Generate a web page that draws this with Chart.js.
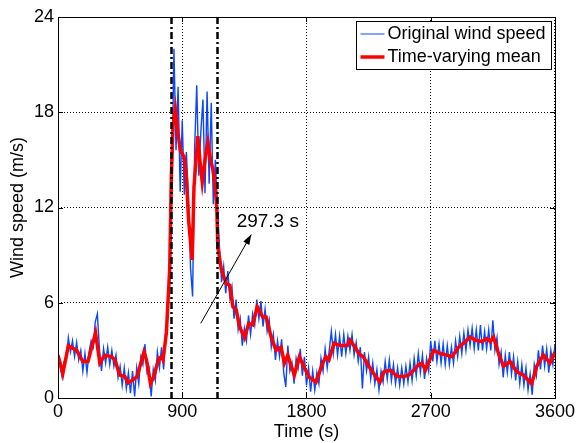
<!DOCTYPE html>
<html>
<head>
<meta charset="utf-8">
<script src="https://cdn.jsdelivr.net/npm/chart.js@4.4.0/dist/chart.umd.min.js"></script>
<style>
  html, body { margin: 0; padding: 0; background: #fff; }
</style>
</head>
<body>
<canvas id="chart" width="578" height="443"></canvas>
<script>
// axis ticks
var xTicks = [0, 900, 1800, 2700, 3600];
var yTicks = [0, 6, 12, 18, 24];

// original wind speed, one reading every 15 s (0 .. 3600 s)
var sampleStep = 15;
var originalSpeed = [
  2.9, 2.0, 1.3, 2.3, 2.4, 3.8, 2.9, 3.6,
  2.6, 3.5, 2.4, 3.0, 1.7, 2.8, 1.6, 2.9,
  3.6, 3.2, 4.8, 5.3, 3.1, 1.7, 3.1, 2.2,
  3.2, 2.1, 3.0, 2.0, 2.7, 1.3, 2.0, 0.8,
  1.9, 0.6, 1.6, 0.3, 1.7, 0.1, 1.9, 0.9,
  2.6, 2.1, 3.4, 1.6, 1.9, 0.1, 1.8, 1.1,
  2.9, 1.9, 3.2, 1.8, 4.2, 5.0, 9.0, 13.5,
  22.0, 15.6, 19.6, 13.0, 17.5, 12.8, 15.5, 12.5,
  8.2, 6.4, 15.8, 19.7, 14.0, 16.8, 18.8, 12.9,
  19.3, 13.5, 18.6, 12.2, 15.0, 11.8, 9.5, 7.3,
  8.3, 6.6, 8.0, 6.3, 7.0, 5.0, 6.2, 4.3,
  5.0, 3.3, 4.4, 3.6, 5.2, 4.0, 5.3, 4.6,
  6.2, 5.0, 6.1, 4.5, 5.6, 4.2, 4.9, 3.2,
  4.0, 2.4, 3.6, 2.6, 3.7, 1.6, 0.7, 3.3,
  1.7, 2.2, 0.9, 2.5, 1.9, 3.1, 1.4, 2.6,
  0.8, 1.9, 0.4, 1.7, 0.5, 1.6, 0.9, 2.5,
  1.7, 3.1, 1.9, 3.0, 4.2, 2.8, 4.0, 2.7,
  3.9, 2.6, 4.0, 2.8, 3.9, 3.0, 4.0, 2.7,
  3.5, 2.3, 3.2, 0.6, 2.9, 1.7, 2.6, 1.2,
  2.2, 0.9, 1.8, 0.5, 1.7, 1.0, 2.3, 1.2,
  2.4, 1.1, 2.1, 0.9, 1.9, 0.8, 1.9, 0.9,
  2.0, 1.0, 2.2, 1.1, 2.5, 1.4, 2.8, 1.6,
  2.7, 1.2, 2.5, 1.7, 3.6, 2.3, 3.6, 2.3,
  3.4, 2.2, 3.4, 2.1, 3.3, 2.1, 3.2, 2.2,
  3.6, 2.6, 3.9, 2.8, 4.1, 3.0, 4.3, 3.3,
  4.4, 3.1, 4.3, 3.0, 4.6, 3.0, 4.2, 3.1,
  4.3, 3.0, 4.9, 3.0, 3.8, 2.1, 2.9, 1.3,
  2.7, 1.6, 2.9, 1.5, 2.6, 1.1, 2.3, 0.9,
  2.1, 0.8, 1.9, 0.5, 1.5, 0.2, 2.1, 1.4,
  3.0, 1.8, 3.3, 2.0, 3.1, 1.6, 3.0, 2.1,
  3.4
];

// time-varying mean
var meanTimes = [
  0, 35, 75, 135, 180, 217, 272, 303, 340, 388, 412, 448, 484, 508, 544, 573,
  623, 641, 670, 694, 730, 749, 761, 785, 809, 821, 833, 850, 869, 886, 913, 930,
  946, 972, 985, 1013, 1030, 1045, 1065, 1086, 1105, 1122, 1140, 1150, 1158, 1183, 1219, 1243,
  1267, 1291, 1315, 1351, 1382, 1411, 1443, 1483, 1508, 1544, 1580, 1616, 1640, 1664, 1712, 1749,
  1785, 1821, 1869, 1917, 1941, 1963, 1999, 2047, 2095, 2115, 2144, 2180, 2211, 2252, 2293, 2332,
  2361, 2409, 2457, 2505, 2541, 2577, 2613, 2637, 2661, 2693, 2722, 2770, 2818, 2854, 2902, 2938,
  2986, 3022, 3070, 3107, 3131, 3155, 3191, 3227, 3275, 3323, 3371, 3431, 3468, 3516, 3564, 3600
];
var meanSpeed = [
  2.7, 1.55, 3.3, 3.0, 2.3, 2.3, 4.1, 2.2, 2.7, 2.6, 2.4, 1.45, 1.35, 0.95, 1.15, 1.35,
  2.9, 2.4, 0.9, 1.35, 2.5, 2.6, 2.4, 4.1, 8.1, 13.9, 17.1, 18.2, 16.7, 15.6, 15.2, 13.9,
  11.2, 8.7, 13.3, 16.5, 14.8, 13.6, 15.0, 16.1, 15.0, 14.4, 13.2, 12.0, 9.5, 8.1, 7.2, 7.1,
  5.75, 5.55, 4.5, 3.8, 4.7, 4.6, 5.75, 5.1, 5.1, 3.85, 3.0, 3.2, 2.2, 2.7, 1.45, 2.6,
  1.9, 1.3, 1.0, 2.2, 2.6, 2.4, 3.45, 3.3, 3.3, 3.65, 3.3, 2.8, 2.6, 2.0, 1.45, 1.0,
  1.65, 1.75, 1.35, 1.35, 1.45, 1.75, 2.1, 2.2, 1.75, 2.4, 3.0, 2.8, 2.7, 2.6, 3.2, 3.45,
  3.85, 3.65, 3.55, 3.75, 3.55, 3.85, 2.8, 2.0, 2.3, 1.65, 1.45, 0.9, 2.0, 2.7, 2.2, 2.9
];

// event markers and annotation
var markerTimes = [818, 1151];
var arrowStart = { x: 1034, y: 4.7 };
var arrowEnd = { x: 1400, y: 10.3 };
var arrowText = '297.3 s';
var arrowTextAt = { x: 1294, y: 11.1 };

var legendItems = [
  { text: 'Original wind speed', color: '#0a46ff', width: 1 },
  { text: 'Time-varying mean', color: '#ff0000', width: 3.5 }
];

var fontFamily = 'Arial, "Liberation Sans", sans-serif';

var decorPlugin = {
  id: 'decor',
  afterDatasetsDraw: function (chart) {
    var ctx = chart.ctx;
    var xs = chart.scales.x, ys = chart.scales.y;
    var area = chart.chartArea;
    ctx.save();
    // dash-dot event lines
    ctx.strokeStyle = '#000';
    ctx.lineWidth = 2.5;
    ctx.setLineDash([7, 3, 2, 3]);
    markerTimes.forEach(function (t) {
      var px = Math.round(xs.getPixelForValue(t)) + 0.5;
      ctx.beginPath();
      ctx.moveTo(px, area.top);
      ctx.lineTo(px, area.bottom);
      ctx.stroke();
    });
    ctx.setLineDash([]);
    // arrow
    var x1 = xs.getPixelForValue(arrowStart.x), y1 = ys.getPixelForValue(arrowStart.y);
    var x2 = xs.getPixelForValue(arrowEnd.x), y2 = ys.getPixelForValue(arrowEnd.y);
    ctx.lineWidth = 1;
    ctx.beginPath();
    ctx.moveTo(x1, y1);
    ctx.lineTo(x2, y2);
    ctx.stroke();
    var ang = Math.atan2(y2 - y1, x2 - x1);
    ctx.fillStyle = '#000';
    ctx.beginPath();
    ctx.moveTo(x2, y2);
    ctx.lineTo(x2 - 10 * Math.cos(ang) + 3.5 * Math.sin(ang), y2 - 10 * Math.sin(ang) - 3.5 * Math.cos(ang));
    ctx.lineTo(x2 - 10 * Math.cos(ang) - 3.5 * Math.sin(ang), y2 - 10 * Math.sin(ang) + 3.5 * Math.cos(ang));
    ctx.closePath();
    ctx.fill();
    ctx.font = '19px ' + fontFamily;
    ctx.textAlign = 'left';
    ctx.textBaseline = 'middle';
    ctx.fillText(arrowText, xs.getPixelForValue(arrowTextAt.x), ys.getPixelForValue(arrowTextAt.y));
    ctx.restore();
  },
  afterDraw: function (chart) {
    var ctx = chart.ctx;
    var xs = chart.scales.x, ys = chart.scales.y;
    var a = chart.chartArea;
    ctx.save();
    ctx.strokeStyle = '#000';
    ctx.lineWidth = 1;
    // axes box
    ctx.strokeRect(Math.round(a.left) + 0.5, Math.round(a.top) + 0.5,
      Math.round(a.right - a.left), Math.round(a.bottom - a.top));
    // inward tick marks
    ctx.beginPath();
    xTicks.forEach(function (v) {
      var px = Math.round(xs.getPixelForValue(v)) + 0.5;
      ctx.moveTo(px, a.bottom); ctx.lineTo(px, a.bottom - 5);
      ctx.moveTo(px, a.top); ctx.lineTo(px, a.top + 5);
    });
    yTicks.forEach(function (v) {
      var py = Math.round(ys.getPixelForValue(v)) + 0.5;
      ctx.moveTo(a.left, py); ctx.lineTo(a.left + 5, py);
      ctx.moveTo(a.right, py); ctx.lineTo(a.right - 5, py);
    });
    ctx.stroke();
    // legend
    var bx = Math.round(a.right) - 198.5, by = Math.round(a.top) + 4.5;
    var bw = 195, bh = 48;
    ctx.fillStyle = '#fff';
    ctx.fillRect(bx, by, bw, bh);
    ctx.strokeRect(bx, by, bw, bh);
    ctx.font = '18px ' + fontFamily;
    ctx.textAlign = 'left';
    ctx.textBaseline = 'middle';
    legendItems.forEach(function (item, i) {
      var ly = by + 12.5 + i * 23;
      ctx.strokeStyle = item.color;
      ctx.lineWidth = item.width;
      ctx.beginPath();
      ctx.moveTo(bx + 4, ly);
      ctx.lineTo(bx + 28, ly);
      ctx.stroke();
      ctx.fillStyle = '#000';
      ctx.fillText(item.text, bx + 31, ly);
    });
    ctx.restore();
  }
};

function plainTick(value) {
  return String(value);
}

var ctx = document.getElementById('chart').getContext('2d');
var chart = new Chart(ctx, {
  type: 'line',
  data: {
    datasets: [
      {
        label: 'Time-varying mean',
        data: meanTimes.map(function (t, i) { return { x: t, y: meanSpeed[i] }; }),
        borderColor: '#ff0000',
        borderWidth: 3.5,
        pointRadius: 0,
        tension: 0,
        order: 0
      },
      {
        label: 'Original wind speed',
        data: originalSpeed.map(function (v, i) { return { x: i * sampleStep, y: v }; }),
        borderColor: '#0a46ff',
        borderWidth: 1.4,
        pointRadius: 0,
        tension: 0,
        order: 1
      }
    ]
  },
  options: {
    responsive: false,
    animation: false,
    devicePixelRatio: 1,
    layout: { padding: { top: 17, right: 22, left: 0, bottom: 0 } },
    plugins: { legend: { display: false }, tooltip: { enabled: false } },
    scales: {
      x: {
        type: 'linear',
        min: 0,
        max: 3600,
        afterBuildTicks: function (s) { s.ticks = xTicks.map(function (v) { return { value: v }; }); },
        afterFit: function (s) { s.height = 45; },
        ticks: { color: '#000', font: { size: 18, family: fontFamily }, padding: 3, maxRotation: 0, callback: plainTick },
        grid: { color: '#000', lineWidth: 1, drawTicks: false },
        border: { display: false, dash: [1, 2] },
        title: { display: true, text: 'Time (s)', color: '#000', font: { size: 18, family: fontFamily }, padding: { top: 0, bottom: 0 } }
      },
      y: {
        min: 0,
        max: 24,
        afterBuildTicks: function (s) { s.ticks = yTicks.map(function (v) { return { value: v }; }); },
        afterFit: function (s) { s.width = 58; },
        ticks: { color: '#000', font: { size: 18, family: fontFamily }, padding: 4, callback: plainTick },
        grid: { color: '#000', lineWidth: 1, drawTicks: false },
        border: { display: false, dash: [1, 2] },
        title: { display: true, text: 'Wind speed (m/s)', color: '#000', font: { size: 18, family: fontFamily }, padding: { top: 7, bottom: 0 } }
      }
    }
  },
  plugins: [decorPlugin]
});
</script>
</body>
</html>
